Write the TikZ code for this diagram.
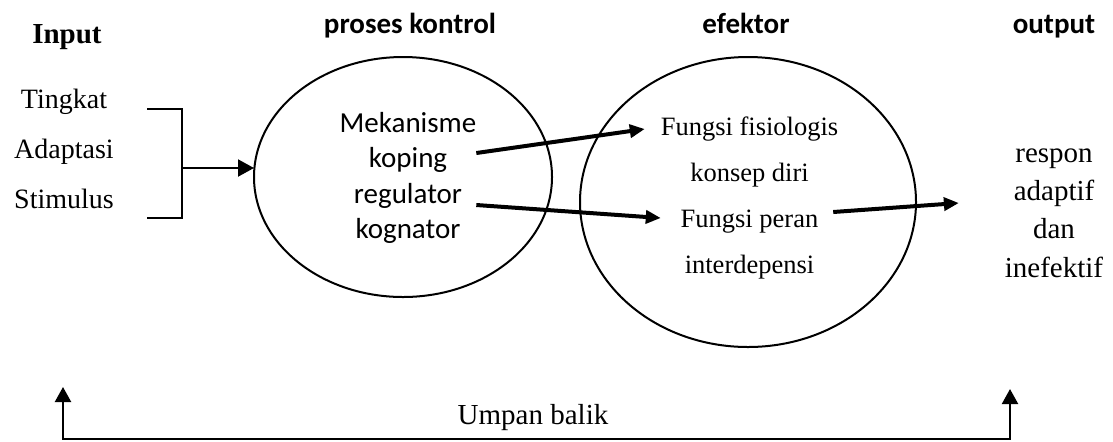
\documentclass[tikz,border=0pt]{standalone}
\usepackage{fontspec}
\setmainfont{Liberation Serif}
\newfontfamily\calibri{Carlito}
\usepackage{tikz}
\usetikzlibrary{positioning, arrows.meta, shapes.geometric}

\begin{document}
\begin{tikzpicture}[
    x=0.5pt,
    y=-0.5pt,
    >=Latex,
    every node/.style={align=center, inner sep=0pt, outer sep=0pt},
    heading/.style={anchor=base, font=\calibri\fontsize{14.5}{17}\selectfont\bfseries},
    title/.style={anchor=base, font=\fontsize{14.5}{17}\selectfont\bfseries},
    body/.style={font=\fontsize{#1}{#1}\selectfont},
    blob/.style={draw, ellipse, line width=1pt},
    flow/.style={-{Triangle[length=7.5pt, width=6.5pt]}, line width=2pt},
    thinflow/.style={-{Triangle[length=8pt, width=8.5pt]}, line width=1pt}
]

\useasboundingbox (0,0) rectangle (1113,441);

% =================================================
% HEADINGS
% =================================================

\node[title] (hinput) at (67,43) {Input};
\node[heading] (hkontrol) at (410,33) {proses kontrol};
\node[heading] (hefektor) at (746,33) {efektor};
\node[heading] (houtput) at (1054,33) {output};

% =================================================
% INPUT
% =================================================

\node[
    font=\fontsize{14}{25}\selectfont
] (inp) at (64,148.5)
{Tingkat\\Adaptasi\\Stimulus};

% Bracket
\draw[
    line width=1pt
] (147,109) -- (182,109) -- (182,218) -- (147,218);

\coordinate (brk) at (182,168);

% =================================================
% PROSES KONTROL
% =================================================

\node[
    blob,
    minimum width=149pt,
    minimum height=120pt
] (kontrol) at (403,177) {};

\node[
    font=\calibri\fontsize{14.5}{17.67}\selectfont
] (mek) at (408,178)
{Mekanisme\\koping\\regulator\\kognator};

\draw[thinflow] (brk) -- (brk -| kontrol.west);

% =================================================
% EFEKTOR
% =================================================

\node[
    blob,
    minimum width=168pt,
    minimum height=145pt
] (efektor) at (748,202) {};

\node[
    font=\fontsize{13.25}{23}\selectfont
] (eff) at (749.5,198)
{Fungsi fisiologis\\konsep diri\\Fungsi peran\\interdepensi};

% =================================================
% OUTPUT
% =================================================

\node[
    font=\fontsize{14.5}{19.2}\selectfont
] (resp) at (1054,213)
{respon\\adaptif\\dan\\inefektif};

% Arrows
\draw[flow] ([yshift=12.5pt]mek.east) -- ([xshift=-8pt, yshift=34.5pt]eff.west);
\draw[flow] ([yshift=-13.5pt]mek.east) -- ([yshift=-10pt]eff.west);
\draw[flow] ([xshift=-2.5pt, yshift=-7pt]eff.east) -- ([xshift=-23pt, yshift=5pt]resp.west);

% =================================================
% UMPAN BALIK
% =================================================

\coordinate (fbl) at (63,387);
\coordinate (fbr) at (1010,389);
\coordinate (fbmid) at (536,439);

\draw[
    {Triangle[length=7.5pt, width=8pt]}-{Triangle[length=7.5pt, width=8pt]},
    line width=1.1pt
] (fbl) |- (fbmid) -| (fbr);

\node[
    anchor=base,
    font=\fontsize{14.5}{17}\selectfont
] (umpan) at (533,424)
{Umpan balik};

\end{tikzpicture}
\end{document}
